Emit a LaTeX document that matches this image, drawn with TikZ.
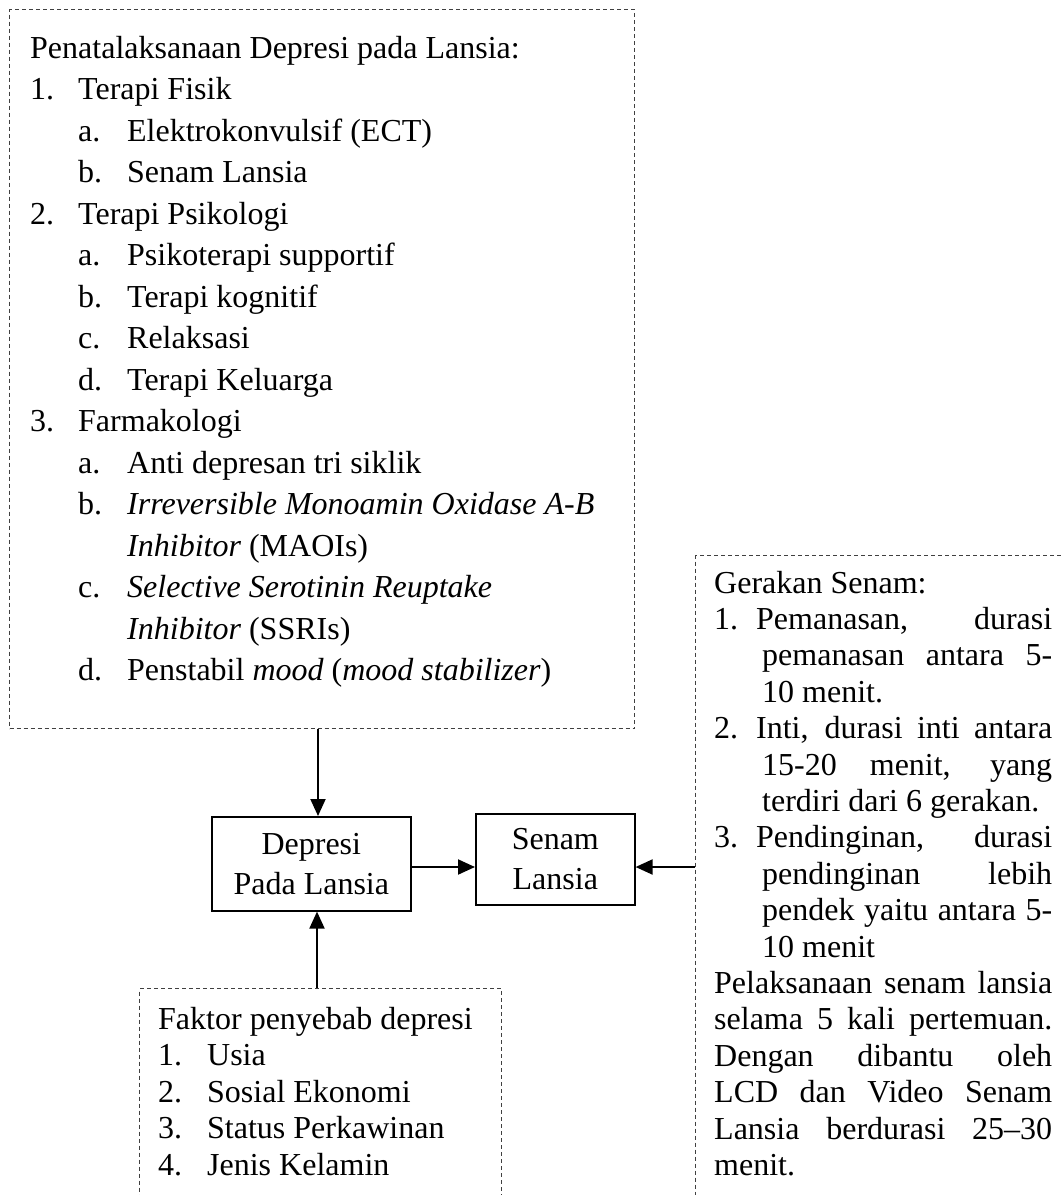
\documentclass[tikz,border=0pt]{standalone}
\usepackage{fontspec}
\setmainfont{Liberation Serif}
\usetikzlibrary{arrows.meta}
\newcommand\Lnum[2]{\hbox{\hbox to 48pt{#1\hfil}#2}}
\newcommand\Lsub[2]{\hbox{\hskip48pt\hbox to 49pt{#1\hfil}#2}}
\newcommand\Lcont[1]{\hbox{\hskip97pt #1}}
\newcommand\Rnum[2]{\hbox{\hbox to 42pt{#1\hfil}#2}}
\newcommand\Rcont[1]{\hbox{\hskip48pt #1}}
\newcommand\Jst[2]{\hbox to #1pt{#2}}
\newcommand\Bnum[2]{\hbox{\hbox to 49pt{#1\hfil}#2}}
\tikzset{
  dbox/.style={draw=black!75, line width=1pt, dash pattern=on 4pt off 3pt, inner sep=0, anchor=north west},
  sbox/.style={draw=black, line width=1.6pt, inner sep=0, anchor=north west},
  lbl/.style={inner sep=0, align=center, font=\fontsize{32}{40}\selectfont},
  txt/.style={inner sep=0, anchor=base west, font=\fontsize{32}{40}\selectfont},
  arr/.style={draw=black, line width=2pt, -{Triangle[length=17pt,width=15pt]}}
}
\begin{document}
\begin{tikzpicture}[x=1pt,y=-1pt]
\useasboundingbox (0,0) rectangle (1063,1195);
\clip (0,0) rectangle (1063,1195);
\fill[white] (0,0) rectangle (1063,1195);
% dashed boxes
\node[dbox, minimum width=625pt, minimum height=719pt] (top) at (9,9) {};
\node[dbox, minimum width=500pt, minimum height=800pt] (rbox) at (695,555) {};
\node[dbox, minimum width=362pt, minimum height=400pt] (bot) at (139,988) {};
% solid boxes
\node[sbox, minimum width=199pt, minimum height=94pt] (dep) at (211,816) {};
\node[sbox, minimum width=159pt, minimum height=91pt] (sen) at (475,813) {};
\node[lbl] (deplbl) at (dep.center) {Depresi\\Pada Lansia};
\node[lbl] (senlbl) at (sen.center) {Senam\\Lansia};
% top text
\node[txt] (toptext) at (30,58) {\vtop{\baselineskip=41.5pt\lineskiplimit=-100pt
  \hbox{Penatalaksanaan Depresi pada Lansia:}
  \Lnum{1.}{Terapi Fisik}
  \Lsub{a.}{Elektrokonvulsif (ECT)}
  \Lsub{b.}{Senam Lansia}
  \Lnum{2.}{Terapi Psikologi}
  \Lsub{a.}{Psikoterapi supportif}
  \Lsub{b.}{Terapi kognitif}
  \Lsub{c.}{Relaksasi}
  \Lsub{d.}{Terapi Keluarga}
  \Lnum{3.}{Farmakologi}
  \Lsub{a.}{Anti depresan tri siklik}
  \Lsub{b.}{\textit{Irreversible Monoamin Oxidase A-B}}
  \Lcont{\textit{Inhibitor} (MAOIs)}
  \Lsub{c.}{\textit{Selective Serotinin Reuptake}}
  \Lcont{\textit{Inhibitor} (SSRIs)}
  \Lsub{d.}{Penstabil \textit{mood} (\textit{mood stabilizer})}
}};
% right text
\node[txt] (rtext) at (714,593) {\vtop{\baselineskip=36.4pt\lineskiplimit=-100pt
  \hbox{Gerakan Senam:}
  \Rnum{1.}{\Jst{296}{Pemanasan, durasi}}
  \Rcont{\Jst{290}{pemanasan antara 5-}}
  \Rcont{10 menit.}
  \Rnum{2.}{\Jst{296}{Inti, durasi inti antara}}
  \Rcont{\Jst{290}{15-20 menit, yang}}
  \Rcont{terdiri dari 6 gerakan.}
  \Rnum{3.}{\Jst{296}{Pendinginan, durasi}}
  \Rcont{\Jst{290}{pendinginan lebih}}
  \Rcont{\Jst{290}{pendek yaitu antara 5-}}
  \Rcont{10 menit}
  \Jst{338}{Pelaksanaan senam lansia}
  \Jst{338}{selama 5 kali pertemuan.}
  \Jst{338}{Dengan dibantu oleh}
  \Jst{338}{LCD dan Video Senam}
  \Jst{338}{Lansia berdurasi 25–30}
  \hbox{menit.}
}};
% bottom text
\node[txt] (btext) at (158,1029) {\vtop{\baselineskip=36.5pt\lineskiplimit=-100pt
  \hbox{Faktor penyebab depresi}
  \Bnum{1.}{Usia}
  \Bnum{2.}{Sosial Ekonomi}
  \Bnum{3.}{Status Perkawinan}
  \Bnum{4.}{Jenis Kelamin}
}};
% connectors
\coordinate (cx) at (318,0);
\coordinate (bx) at (317,0);
\coordinate (my) at (0,867);
\draw[arr] (cx |- top.south) -- (cx |- dep.north);
\draw[arr] (bx |- bot.north) -- (bx |- dep.south);
\draw[arr] (my -| dep.east) -- (my -| sen.west);
\draw[arr] (my -| rbox.west) -- (my -| sen.east);
\end{tikzpicture}
\end{document}
